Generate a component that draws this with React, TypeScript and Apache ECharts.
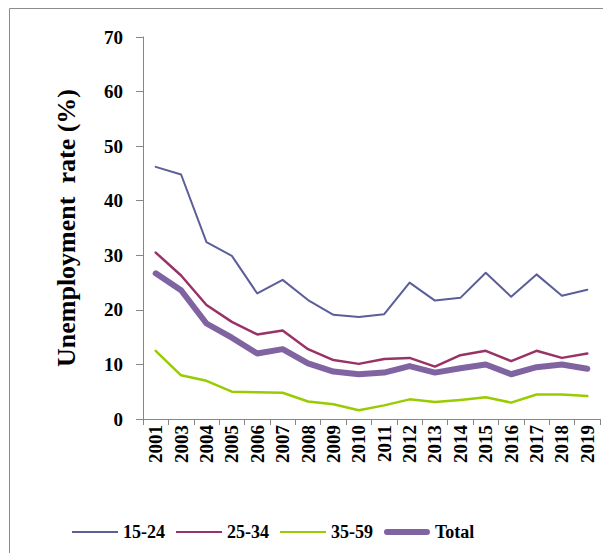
import React, { useEffect, useRef } from "react";
import * as echarts from "echarts";

const years = ["2001","2003","2004","2005","2006","2007","2008","2009","2010","2011","2012","2013","2014","2015","2016","2017","2018","2019"];
const age15to24 = [46.2,44.8,32.4,29.9,23.0,25.5,21.8,19.1,18.7,19.2,25.0,21.7,22.2,26.8,22.4,26.5,22.6,23.7];
const age25to34 = [30.5,26.3,20.9,17.8,15.5,16.2,12.8,10.8,10.1,11.0,11.2,9.6,11.7,12.5,10.6,12.5,11.2,12.0];
const age35to59 = [12.5,8.0,7.0,5.0,4.9,4.8,3.2,2.7,1.6,2.5,3.6,3.1,3.5,4.0,3.0,4.5,4.5,4.2];
const total = [26.7,23.6,17.5,14.9,12.0,12.8,10.2,8.7,8.2,8.5,9.7,8.5,9.3,10.0,8.2,9.5,10.0,9.2];
const yTicks = [0,10,20,30,40,50,60,70];

const FONT = "'Liberation Serif', 'Times New Roman', serif";

export default function App() {
  const ref = useRef<HTMLDivElement>(null);
  useEffect(() => {
    document.body.style.margin = "0";
    const chart = echarts.init(ref.current!, null, { renderer: "svg" });
    const mk = (name: string, data: number[], color: string, width: number) => ({
      name,
      type: "line",
      data,
      symbol: "none",
      showSymbol: false,
      lineStyle: { color, width, cap: "round", join: "round" },
      itemStyle: { color },
    });
    const thin = "path://M0,0H46V2H0Z";
    const thick = "path://M3,0H43A3,3 0 0 1 43,6H3A3,3 0 0 1 3,0Z";
    chart.setOption({
      animation: false,
      backgroundColor: "#fff",
      graphic: [
        {
          type: "rect",
          shape: { x: 9.5, y: 8.5, width: 1000, height: 1000 },
          style: { fill: "none", stroke: "#8c8c8c", lineWidth: 1 },
          silent: true,
        },
      ],
      grid: { left: 143, right: 3, top: 37, bottom: 134 },
      legend: {
        left: 67,
        top: 518,
        itemWidth: 46,
        itemHeight: 14,
        itemGap: 11,
        symbolKeepAspect: true,
        textStyle: { fontFamily: FONT, fontSize: 18, fontWeight: "bold", color: "#000" },
        data: [
          { name: "15-24", icon: thin },
          { name: "25-34", icon: thin },
          { name: "35-59", icon: thin },
          { name: "Total", icon: thick },
        ],
      },
      xAxis: {
        type: "category",
        data: years,
        boundaryGap: true,
        axisLine: { lineStyle: { color: "#868686", width: 1 } },
        axisTick: { show: true, length: 6, alignWithLabel: false, lineStyle: { color: "#868686" } },
        axisLabel: {
          interval: 0,
          rotate: 90,
          margin: 6,
          fontFamily: FONT,
          fontSize: 19,
          fontWeight: "bold",
          color: "#000",
        },
        splitLine: { show: false },
      },
      yAxis: {
        type: "value",
        min: yTicks[0],
        max: yTicks[yTicks.length - 1],
        interval: 10,
        name: "Unemployment  rate (%)",
        nameLocation: "middle",
        nameGap: 64,
        nameTextStyle: { fontFamily: FONT, fontSize: 26, fontWeight: "bold", color: "#000" },
        axisLine: { show: true, lineStyle: { color: "#868686", width: 1 } },
        axisTick: { show: true, length: 7, lineStyle: { color: "#868686" } },
        axisLabel: { margin: 20, fontFamily: FONT, fontSize: 19, fontWeight: "bold", color: "#000" },
        splitLine: { show: false },
      },
      series: [
        mk("15-24", age15to24, "#5B5E98", 2),
        mk("25-34", age25to34, "#993366", 2.5),
        mk("35-59", age35to59, "#99CC00", 2.5),
        mk("Total", total, "#8064A2", 6),
      ],
    });
    return () => chart.dispose();
  }, []);
  return <div ref={ref} style={{ width: 603, height: 553 }} />;
}
